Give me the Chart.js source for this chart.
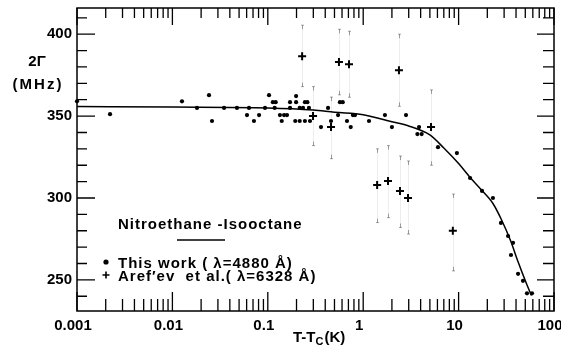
<!DOCTYPE html>
<html><head><meta charset="utf-8">
<script src="https://cdn.jsdelivr.net/npm/chart.js@4"></script>
<style>html,body{margin:0;padding:0;background:#fff;overflow:hidden;}</style>
</head><body>
<canvas id="c" width="561" height="347"></canvas>
<script>
// ---- data ----
const dotX = [0.001,0.00222,0.0126,0.0181,0.0242,0.026,0.0348,0.0475,0.0605,0.0635,0.0716,0.081,0.0935,0.103,0.113,0.121,0.118,0.134,0.148,0.159,0.14,0.171,0.171,0.198,0.198,0.216,0.234,0.194,0.216,0.245,0.277,0.245,0.26,0.27,0.428,0.361,0.46,0.545,0.57,0.61,0.676,0.74,0.78,0.82,1.15,1.69,2.0,2.81,3.85,3.7,4.1,6.08,9.6,13.2,17.6,22.9,27.8,33,37.2,35.4,42,47.3,52.1,58.8];
const dotY = [359,351.2,359,355,362.8,347,355,355,350.6,355,347,350.6,355,362.8,358.5,358.5,355,350.6,350.6,350.6,347,358.5,355,362.2,358.5,355,355,347,347,347,347,358.5,358.5,355,355,343.3,347,350.6,358.5,358.5,347,343.3,350.6,350.6,347,350.6,343.3,350.6,343.3,339,339,331,327.4,312.2,304.3,300,284.8,276.8,272.6,265.2,253.7,249.4,241.8,241.8];

const crossX  = [0.229,0.557,0.71,2.37,0.298,0.46,5.14,1.40,1.82,2.43,2.95,8.7];
const crossY  = [386.6,383,381.7,378,350,343.3,343.3,308,310.4,304.3,300,280];
const crossLo = [368,363,361.5,356,332,324,320,285,288,282,278,255.5];
const crossHi = [405.5,403,401.8,400,368,361.6,366,330,332,325.6,322.6,302.4];

const fitX = [0.001,0.01,0.1,0.3,0.5,1,2,3,5,7,10,13,17,23,28,35,42,52,58];
const fitY = [355.8,355.5,355,353.7,352.3,350.8,346.5,344,338.5,330.5,321,313,305.5,296.5,287,274,261,247,240.5];

const xTickValues = [0.001,0.01,0.1,1,10,100];
const xTickLabels = ['0.001','0.01','0.1','1','10','100'];
const yTickValues = [250,300,350,400];
const yTickLabels = ['250','300','350','400'];

const legendTitle = 'Nitroethane -Isooctane';
const legendDots = 'This work ( λ=4880 Å)';
const legendCross = 'Aref\u2032ev  et al.( λ=6328 Å)';

// ---- styling ----
const FONT = 'Liberation Sans';
const tickFont = {family: FONT, size: 15, weight: 'bold'};

const decor = {
  id: 'decor',
  beforeDatasetsDraw(chart) {
    const {ctx, scales: {x, y}} = chart;
    ctx.save();
    for (let i = 0; i < crossX.length; i++) {
      const px = Math.round(x.getPixelForValue(crossX[i])) + 0.5;
      const lo = y.getPixelForValue(crossLo[i]);
      const hi = y.getPixelForValue(crossHi[i]);
      ctx.strokeStyle = 'rgba(0,0,0,0.07)';
      ctx.lineWidth = 1;
      ctx.beginPath(); ctx.moveTo(px, lo); ctx.lineTo(px, hi); ctx.stroke();
      ctx.strokeStyle = 'rgba(0,0,0,0.35)';
      ctx.beginPath();
      ctx.moveTo(px, hi); ctx.lineTo(px, hi + 4);
      ctx.moveTo(px - 1.5, hi); ctx.lineTo(px + 1.5, hi);
      ctx.moveTo(px, lo); ctx.lineTo(px, lo - 4);
      ctx.moveTo(px - 1.5, lo); ctx.lineTo(px + 1.5, lo);
      ctx.stroke();
    }
    ctx.restore();
  },
  afterDraw(chart) {
    const {ctx, chartArea: ca, scales: {x, y}} = chart;
    ctx.save();
    ctx.strokeStyle = '#000';
    ctx.lineWidth = 1.5;
    ctx.strokeRect(ca.left, ca.top, ca.right - ca.left, ca.bottom - ca.top);
    // x ticks (inward, bottom and top)
    ctx.lineWidth = 1.3;
    ctx.beginPath();
    for (let e = -3; e <= 2; e++) {
      for (let m = 1; m <= 9; m++) {
        const v = m * Math.pow(10, e);
        if (v > 100.0001) break;
        const px = x.getPixelForValue(v);
        const major = m === 1;
        ctx.moveTo(px, ca.bottom); ctx.lineTo(px, ca.bottom - (major ? 19 : 12));
        ctx.moveTo(px, ca.top); ctx.lineTo(px, ca.top + (major ? 17 : 10));
      }
    }
    // y ticks (inward, left and right)
    for (let v = 240; v <= 410; v += 10) {
      const py = y.getPixelForValue(v);
      const major = v % 50 === 0;
      ctx.moveTo(ca.left, py); ctx.lineTo(ca.left + (major ? 18 : 10), py);
      ctx.moveTo(ca.right, py); ctx.lineTo(ca.right - (major ? 17 : 11), py);
    }
    ctx.stroke();

    // axis titles
    ctx.fillStyle = '#000';
    ctx.textBaseline = 'alphabetic';
    ctx.font = 'bold 15px "' + FONT + '"';
    ctx.textAlign = 'center';
    ctx.fillText('2Γ', 37, 66);
    ctx.letterSpacing = '2px';
    ctx.fillText('(MHz)', 38, 89);
    ctx.letterSpacing = '0px';
    // x title T-Tc(K)
    ctx.textAlign = 'left';
    let tx = 293;
    ctx.fillText('T-T', tx, 342); tx += ctx.measureText('T-T').width;
    ctx.font = 'bold 11px "' + FONT + '"';
    ctx.fillText('C', tx, 345); tx += ctx.measureText('C').width + 1;
    ctx.font = 'bold 15px "' + FONT + '"';
    ctx.fillText('(K)', tx, 342);

    // inset legend
    ctx.letterSpacing = '1px';
    ctx.font = 'bold 15px "' + FONT + '"';
    ctx.fillText(legendTitle, 118, 229);
    ctx.fillText(legendDots, 118, 268);
    ctx.fillText(legendCross, 118, 281);
    ctx.letterSpacing = '0px';
    ctx.lineWidth = 1.5;
    ctx.beginPath(); ctx.moveTo(177, 240); ctx.lineTo(225, 240); ctx.stroke();
    ctx.beginPath(); ctx.arc(106, 262, 2.6, 0, Math.PI * 2); ctx.fill();
    ctx.lineWidth = 1.6;
    ctx.beginPath();
    ctx.moveTo(102.5, 275); ctx.lineTo(109.5, 275);
    ctx.moveTo(106, 271.5); ctx.lineTo(106, 278.5);
    ctx.stroke();
    ctx.restore();
  }
};

new Chart(document.getElementById('c'), {
  type: 'scatter',
  data: {
    datasets: [
      {
        label: 'This work',
        data: dotX.map((v, i) => ({x: v, y: dotY[i]})),
        pointStyle: 'circle', pointRadius: 2.1, pointHoverRadius: 2.1,
        backgroundColor: '#000', borderColor: '#000', borderWidth: 0,
        clip: false
      },
      {
        label: 'Aref\u2032ev et al.',
        data: crossX.map((v, i) => ({x: v, y: crossY[i]})),
        pointStyle: 'cross', pointRadius: 4, pointHoverRadius: 4,
        borderColor: '#000', borderWidth: 2,
        clip: false
      },
      {
        label: 'fit',
        type: 'line',
        data: fitX.map((v, i) => ({x: v, y: fitY[i]})),
        borderColor: '#000', borderWidth: 1.5,
        pointRadius: 0, fill: false,
        cubicInterpolationMode: 'monotone'
      }
    ]
  },
  options: {
    responsive: false,
    animation: false,
    devicePixelRatio: 1,
    layout: {padding: {top: 8, right: 7, left: 0, bottom: 0}},
    plugins: {legend: {display: false}, tooltip: {enabled: false}},
    events: [],
    scales: {
      x: {
        type: 'logarithmic', position: 'bottom', min: 0.001, max: 100,
        grid: {display: false, drawTicks: false},
        border: {display: false},
        afterBuildTicks: s => { s.ticks = xTickValues.map(v => ({value: v})); },
        afterFit: s => { s.height = 36; s.paddingLeft = 0; s.paddingRight = 0; },
        ticks: {
          color: '#000', font: tickFont, padding: 6, labelOffset: -4,
          autoSkip: false, maxRotation: 0, minRotation: 0,
          callback: (v, i) => xTickLabels[i]
        }
      },
      y: {
        type: 'linear', position: 'left', min: 231, max: 416,
        grid: {display: false, drawTicks: false},
        border: {display: false},
        afterBuildTicks: s => { s.ticks = yTickValues.map(v => ({value: v})); },
        afterFit: s => { s.width = 77; s.paddingTop = 0; s.paddingBottom = 0; },
        ticks: {
          color: '#000', font: tickFont, padding: 5,
          callback: (v, i) => yTickLabels[i]
        }
      }
    }
  },
  plugins: [decor]
});
</script>
</body></html>
